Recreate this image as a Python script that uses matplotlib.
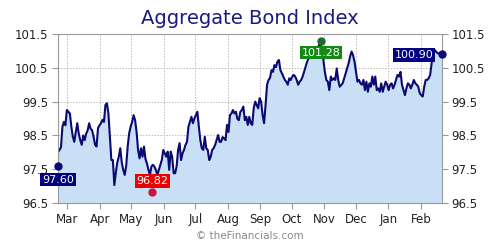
import matplotlib
import matplotlib.pyplot as plt
import matplotlib.dates as mdates
import pandas as pd

matplotlib.use("Agg")

# daily index values, Feb 20 2013 -> Feb 21 2014
close = [
    98.00, 98.07, 98.15, 98.76, 98.90, 98.80, 99.25, 99.20, 99.15, 98.76,
    98.46, 98.31, 98.60, 98.86, 98.55, 98.36, 98.22, 98.50, 98.36, 98.55,
    98.65, 98.86, 98.70, 98.65, 98.46, 98.22, 98.17, 98.72, 98.80, 98.86,
    98.96, 98.90, 99.40, 99.45, 99.15, 98.46, 97.77, 97.77, 97.03, 97.40,
    97.70, 97.87, 98.12, 97.70, 97.48, 97.33, 97.60, 98.17, 98.56, 98.76,
    98.90, 99.10, 98.95, 98.60, 98.07, 97.82, 98.12, 97.87,
    98.17, 97.80, 97.67, 97.48, 97.33, 97.58, 97.63, 97.58, 97.48, 97.33,
    97.48, 97.63, 97.77, 98.07, 97.97, 97.87, 98.02, 97.48, 98.02, 97.87,
    97.38, 97.38, 97.58, 98.07, 98.27, 97.77, 97.97, 98.07, 98.22, 98.31,
    98.76, 98.90, 99.05, 98.86, 99.00, 99.10, 99.20, 98.76, 98.36, 98.12,
    98.07, 98.46, 98.12, 98.07, 97.77, 97.87, 98.07, 98.12, 98.22, 98.36,
    98.51, 98.31, 98.31,
    98.45, 98.41, 98.36, 98.81, 98.60, 99.10, 99.15, 99.25, 99.15, 99.20,
    98.99, 98.95, 99.20, 99.25, 99.35, 98.95, 99.05, 98.81, 99.05, 98.86,
    98.81, 99.30, 99.50, 99.40, 99.30, 99.60, 99.50, 99.10, 98.86, 99.40,
    100.00, 100.14, 100.20, 100.43, 100.38, 100.58, 100.52, 100.68, 100.73, 100.43,
    100.34, 100.24, 100.14, 100.09, 100.00, 100.19, 100.14, 100.24, 100.29, 100.24,
    100.14, 100.00, 100.09, 100.14,
    100.24, 100.38, 100.53, 100.68, 100.78, 100.88, 100.98, 101.03, 101.03, 100.98,
    101.08, 101.17, 101.22, 101.03, 100.73, 100.38, 100.14, 100.09, 99.84, 100.24,
    100.14, 100.19, 100.14, 100.48, 100.14, 99.94, 99.99, 100.04, 100.19, 100.34,
    100.48, 100.63, 100.83, 100.98, 100.88, 100.68, 100.38, 100.09, 100.14, 100.04,
    100.00, 100.14, 99.84, 100.09, 99.79, 100.04, 99.94, 100.24, 100.00, 100.24,
    99.84, 99.89, 99.79,
    100.04, 99.79, 99.94, 100.09, 100.00, 99.84, 100.00, 100.04, 99.89, 100.00,
    100.14, 100.29, 100.24, 100.38, 100.00, 99.84, 99.69, 99.89, 100.04, 100.00,
    99.89, 100.00, 100.14, 100.04, 100.00, 99.94, 99.75, 99.69, 99.65, 99.94,
    100.14, 100.14, 100.19, 100.29, 100.63, 100.93, 101.03, 100.98, 100.93, 100.93,
    100.93, 100.90,
]
start_date = "2013-02-20"
end_date = "2014-02-21"

# highlighted points: first, low, high, last
mark_dates = ["2013-02-20", "2013-05-21", "2013-10-29", "2014-02-21"]
mark_values = [97.60, 96.82, 101.28, 100.90]
mark_colors = ["#0a0a78", "#c8143c", "#1f6b2e", "#0a0a78"]
label_colors = ["#000080", "#ee0000", "#138a13", "#000080"]

y_ticks = [96.5, 97.5, 98.5, 99.5, 100.5, 101.5]

dates = pd.date_range(start_date, end_date, periods=len(close))
mark_dates = pd.to_datetime(mark_dates)

fig = plt.figure(figsize=(5, 2.5), dpi=100)
ax = fig.add_axes([0.116, 0.188, 0.768, 0.676])

ax.fill_between(dates, close, 96.5, color="#c8dff5", lw=0)
ax.plot(dates, close, color="#0a0a70", lw=1.5, solid_joinstyle="round")

ax.set_xlim(pd.Timestamp(start_date), pd.Timestamp(end_date))
ax.set_ylim(96.5, 101.5)
ax.set_yticks(y_ticks)
ax.yaxis.set_major_formatter(matplotlib.ticker.FormatStrFormatter("%.1f"))
ax.xaxis.set_major_locator(mdates.MonthLocator())
ax.xaxis.set_major_formatter(mdates.DateFormatter("%b"))

# grid sits under the filled area, like the original
ax.grid(True, color="#bbbbbb", ls=(0, (1.5, 1.5)), lw=0.7)
ax.set_axisbelow(True)
for sp in ax.spines.values():
    sp.set_color("#999999")
    sp.set_linewidth(0.8)
    sp.set_zorder(4)
ax.tick_params(axis="both", colors="#999999", labelcolor="#222222",
               labelsize=8.5, length=4, width=0.8)
ax.tick_params(axis="y", left=True, right=True, labelleft=True,
               labelright=True, pad=3)
ax.tick_params(axis="x", pad=3)

# markers and value boxes
offsets = [(0, -10), (0, 8), (0, -8), (-20, -0.5)]
for d, v, mc, lc, off in zip(mark_dates, mark_values, mark_colors,
                             label_colors, offsets):
    ax.plot(d, v, "o", ms=5, color=mc, clip_on=False, zorder=5)
    ax.annotate(f"{v:.2f}", (d, v), xytext=off, textcoords="offset points",
                ha="center", va="center", color="white", fontsize=8,
                bbox=dict(boxstyle="square,pad=0.15", fc=lc, ec="none"),
                zorder=6, annotation_clip=False)

fig.text(0.5, 0.925, "Aggregate Bond Index", ha="center", va="center",
         fontsize=14, color="#1a1a80")
fig.text(0.5, 0.055, "\u00a9 theFinancials.com", ha="center", va="center",
         fontsize=7.5, color="#8a8a8a")

fig.savefig("out.png", dpi=100)
